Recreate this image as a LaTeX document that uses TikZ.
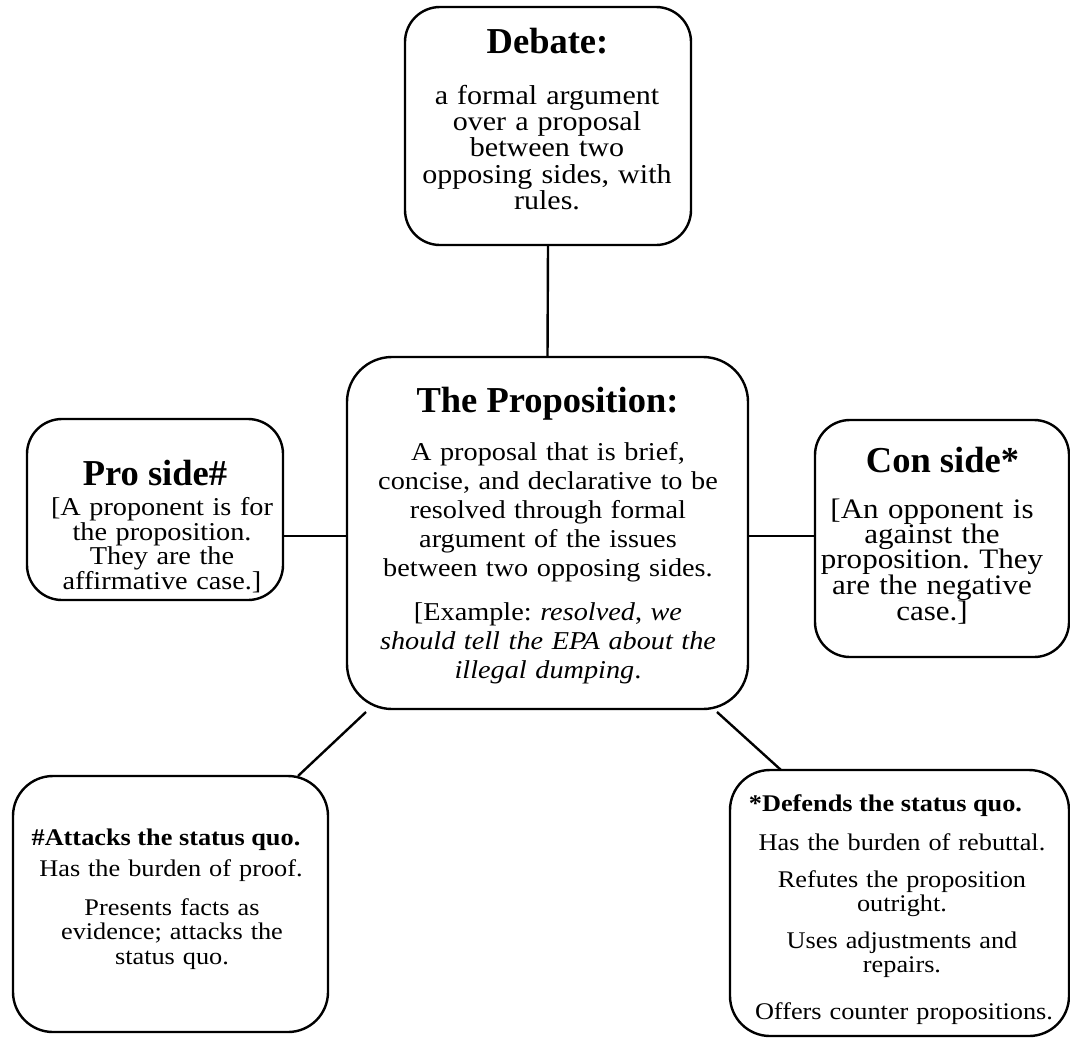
\documentclass[tikz,border=0pt]{standalone}
\usepackage{fontspec}
\setmainfont{Liberation Serif}
\newfontfamily\bodyfont{Liberation Serif}[FakeStretch=1.1]
\setlength{\lineskiplimit}{-1000pt}
\begin{document}
\frenchspacing
\begin{tikzpicture}[x=1pt,y=-1pt,
  box/.style={draw, line width=2.4pt, rounded corners=#1, inner sep=0pt, outer sep=0pt},
  conn/.style={line width=2.4pt},
  ttl/.style={font=\bfseries\fontsize{36.5}{40}\selectfont, anchor=base, inner sep=0pt},
  hdr/.style={font=\bodyfont\bfseries\fontsize{23.9}{24.5}\selectfont, anchor=base, inner sep=0pt},
  para/.style 2 args={anchor=north, inner sep=0pt, align=center, text width=420pt,
    font=\bodyfont\fontsize{#1}{#2}\selectfont}]
\useasboundingbox (0,0) rectangle (1070,1039);
\newcommand\fst{\lineskiplimit=-1000pt\relax\lineskip=0pt\relax\rule{0pt}{25pt}}

% boxes
\node[box=35pt, minimum width=286pt, minimum height=238pt] (debate) at (548,126) {};
\node[box=45pt, minimum width=401pt, minimum height=352pt] (prop) at (547.5,533) {};
\node[box=35pt, minimum width=256pt, minimum height=181pt] (pro) at (155,509.5) {};
\node[box=35pt, minimum width=254pt, minimum height=237pt] (con) at (942,538.5) {};
\node[box=40pt, minimum width=315pt, minimum height=256pt] (attack) at (170.5,904) {};
\node[box=40pt, minimum width=339pt, minimum height=266pt] (defend) at (899.5,903) {};

% connectors
\draw[conn] (debate.south) -- (prop.north);
\draw[conn] ([yshift=-26.5pt]pro.east) -- ([yshift=-3pt]prop.west);
\draw[conn] ([yshift=-3pt]prop.east) -- ([yshift=2.5pt]con.west);
\draw[conn] ([xshift=19pt,yshift=-3pt]prop.south west) -- ([xshift=-30pt]attack.north east);
\draw[conn] ([xshift=-31pt,yshift=-3pt]prop.south east) -- ([xshift=51pt]defend.north west);

% Debate
\node[ttl] (debateT) at (547.5,53) {Debate:};
\node[para={27.3}{26.3}] (debateB) at (547,79) {\fst a formal argument\\over a proposal\\between two\\opposing sides, with\\rules.};

% Proposition
\node[ttl] (propT) at (547.5,412) {The Proposition:};
\node[para={25.7}{29}] (propB1) at (548,435) {\fst A proposal that is brief,\\concise, and declarative to be\\resolved through formal\\argument of the issues\\between two opposing sides.};
\node[para={25.7}{29}] (propB2) at (548,595) {\fst [Example: \textit{resolved}, \textit{we}\\\textit{should tell the EPA about the}\\\textit{illegal dumping}.};

% Pro
\node[ttl] (proT) at (155,485) {Pro side\#};
\node[para={25.7}{24.8}] (proB) at (162,490) {\fst [A proponent is for\\the proposition.\\They are the\\affirmative case.]};

% Con
\node[ttl] (conT) at (942.5,472) {Con side*};
\node[para={28.2}{25.3}] (conB) at (932,493) {\fst [An opponent is\\against the\\proposition. They\\are the negative\\case.]};

% Attacks
\node[hdr] (attackT) at (166,845) {\#Attacks the status quo.};
\node[para={23.9}{24.5}] (attackB1) at (171,851) {\fst Has the burden of proof.};
\node[para={23.9}{24.5}] (attackB2) at (172,890) {\fst Presents facts as\\evidence; attacks the\\status quo.};

% Defends
\node[hdr] (defendT) at (885.5,811) {*Defends the status quo.};
\node[para={23.9}{24.5}] (defendB1) at (902,825) {\fst Has the burden of rebuttal.};
\node[para={23.9}{24.5}] (defendB2) at (902,862) {\fst Refutes the proposition\\outright.};
\node[para={23.9}{24.5}] (defendB3) at (902,923) {\fst Uses adjustments and\\repairs.};
\node[para={23.9}{24.5}] (defendB4) at (904,994) {\fst Offers counter propositions.};
\end{tikzpicture}
\end{document}
